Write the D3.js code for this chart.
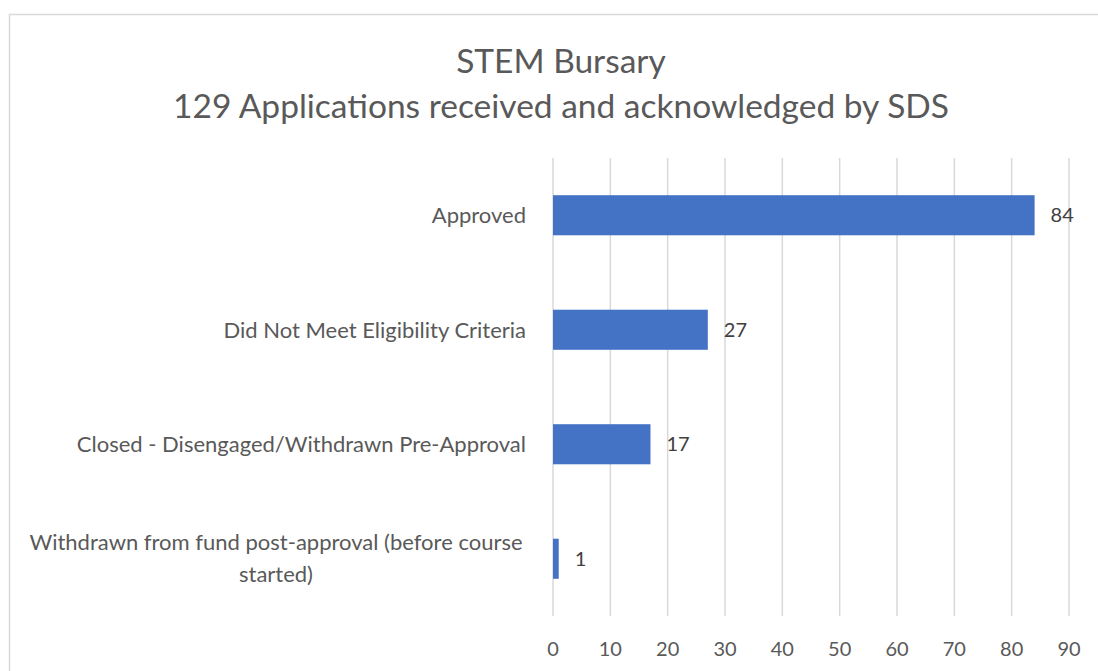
<!DOCTYPE html>
<html>
<head>
<meta charset="utf-8">
<script src="https://cdn.jsdelivr.net/npm/d3@7"></script>
<style>
  body { margin:0; background:#fff; }
  text { font-family: Lato, "Open Sans", "Liberation Sans", sans-serif; }
</style>
</head>
<body>
<div id="chart"></div>
<script>
const categories = [
  "Approved",
  "Did Not Meet Eligibility Criteria",
  "Closed - Disengaged/Withdrawn Pre-Approval",
  "Withdrawn from fund post-approval (before course started)"
]
const values = [84, 27, 17, 1]
const xTicks = [0, 10, 20, 30, 40, 50, 60, 70, 80, 90]
const titleLines = ["STEM Bursary", "129 Applications received and acknowledged by SDS"]

const width = 1098
const height = 671
const margin = {top:158, right:29, bottom:55, left:553}

let svg = d3.select("#chart").append("svg")
    .attr("width", width)
    .attr("height", height)

// chart frame (runs off the right and bottom edge)
svg.append("rect")
    .attr("x", 9.5).attr("y", 14.5)
    .attr("width", 1100).attr("height", 700)
    .attr("fill", "#fff")
    .attr("stroke", "#d9d9d9")
    .attr("stroke-width", 1.5)

let x = d3.scaleLinear().domain([0, 90]).range([margin.left, width - margin.right])
let y = d3.scaleBand().domain(categories).range([margin.top, height - margin.bottom]).paddingInner(0.65).paddingOuter(0.325)

// title
svg.append("g").selectAll("text")
    .data(titleLines)
    .join("text")
    .attr("x", 561)
    .attr("y", (d, i) => 73 + i*45)
    .attr("text-anchor", "middle")
    .attr("font-size", 33.5)
    .attr("fill", "#595959")
    .text(d => d)

// gridlines
svg.append("g").selectAll("line")
    .data(xTicks)
    .join("line")
    .attr("x1", d => x(d)).attr("x2", d => x(d))
    .attr("y1", margin.top).attr("y2", height - margin.bottom)
    .attr("stroke", "#d9d9d9")
    .attr("stroke-width", 1.5)

// x tick labels
svg.append("g").selectAll("text")
    .data(xTicks)
    .join("text")
    .attr("x", d => x(d))
    .attr("y", 656)
    .attr("text-anchor", "middle")
    .attr("font-size", 20)
    .attr("fill", "#595959")
    .text(d => d)

// bars
svg.append("g").selectAll("rect")
    .data(values)
    .join("rect")
    .attr("x", x(0))
    .attr("y", (d, i) => y(categories[i]))
    .attr("width", d => x(d) - x(0))
    .attr("height", y.bandwidth())
    .attr("fill", "#4472c4")

// value labels
svg.append("g").selectAll("text")
    .data(values)
    .join("text")
    .attr("x", d => x(d) + 16)
    .attr("y", (d, i) => y(categories[i]) + y.bandwidth()/2)
    .attr("dy", "0.36em")
    .attr("font-size", 20)
    .attr("fill", "#404040")
    .text(d => d)

// category labels, the long one wraps onto two centred lines
let labelLines = {
  "Withdrawn from fund post-approval (before course started)": ["Withdrawn from fund post-approval (before course", "started)"]
}
let catG = svg.append("g")
categories.forEach(c => {
  let cy = y(c) + y.bandwidth()/2
  let lines = labelLines[c]
  if (lines) {
    catG.append("text")
        .attr("x", 276)
        .attr("y", cy)
        .attr("text-anchor", "middle")
        .attr("font-size", 22)
        .attr("fill", "#595959")
        .selectAll("tspan")
        .data(lines)
        .join("tspan")
        .attr("x", 276)
        .attr("dy", (d, i) => i == 0 ? "-0.4em" : "1.45em")
        .text(d => d)
  } else {
    catG.append("text")
        .attr("x", 526)
        .attr("y", cy)
        .attr("dy", "0.36em")
        .attr("text-anchor", "end")
        .attr("font-size", 22)
        .attr("fill", "#595959")
        .text(c)
  }
})
</script>
</body>
</html>
